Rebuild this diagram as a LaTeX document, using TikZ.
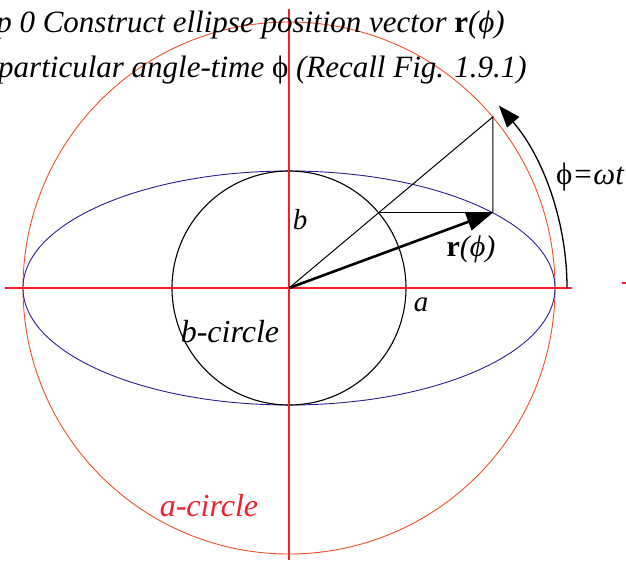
\documentclass[tikz,border=0pt]{standalone}
\usepackage{fontspec}
\setmainfont{Liberation Serif}
\usetikzlibrary{arrows.meta}
\definecolor{axisred}{HTML}{F0202C}
\definecolor{acirc}{HTML}{F0502A}
\definecolor{ellblue}{HTML}{2E1E96}
\begin{document}
\begin{tikzpicture}[x=1pt,y=1pt,
  axis/.style={axisred,line width=2.2},
  thinline/.style={black,line width=1},
  lab/.style={inner sep=0pt,font=\fontsize{29}{34}\selectfont\itshape},
  midlab/.style={inner sep=0pt,font=\fontsize{30}{34}\selectfont\itshape},
  biglab/.style={inner sep=0pt,font=\fontsize{32}{36}\selectfont\itshape},
  title/.style={inner sep=0pt,anchor=base east,font=\fontsize{31}{36}\selectfont\itshape}]
\useasboundingbox (-289,-272) rectangle (337,288);
\clip (-289,-272) rectangle (337,288);
\coordinate (O) at (0,0);
\coordinate (A) at (40:266);
\coordinate (E) at ({266*cos(40)},{117*sin(40)});
\coordinate (B) at (40:117);
\coordinate (Xl) at (-284,0);
\coordinate (Xr) at (283,0);
\coordinate (Yt) at (0,279);
\coordinate (Yb) at (0,-272);
\coordinate (D1) at (333,5);
\coordinate (D2) at (337,5);
\coordinate (S) at (0:278);
% curves
\draw[acirc,line width=0.9] (O) circle (266);
\draw[ellblue,line width=0.9] (O) ellipse (266 and 117);
\draw[black,line width=1.1] (O) circle (117);
% axes
\draw[axis] (Xl) -- (Xr);
\draw[axis] (Yt) -- (Yb);
\draw[axis] (D1) -- (D2);
% construction
\draw[thinline] (O) -- (A) -- (E);
\draw[thinline] (B) -- (E);
\draw[line width=2.6,-{Triangle[length=26,width=18]}] (O) -- (E);
\draw[line width=1.3,-{Triangle[length=22,width=16]}] (S) arc (0:41:278);
% labels
\node[title] (t1) at (216,255) {p 0 Construct ellipse position vector {\upshape\bfseries r}(\textit{ϕ})};
\node[title] (t2) at (238,210) {particular angle-time {\upshape ϕ} (Recall Fig. 1.9.1)};
\node[lab] (lb) at (11,68) {b};
\node[midlab] (lr) at (182,39) {{\upshape\bfseries r}(ϕ)};
\node[title,anchor=center] (lphi) at (301,111) {{\upshape ϕ}=ωt};
\node[lab] (la) at (132,-17) {a};
\node[biglab] (lbc) at (-59,-44) {b-circle};
\node[biglab,text=axisred] (lac) at (-80,-218) {a-circle};
\end{tikzpicture}
\end{document}
